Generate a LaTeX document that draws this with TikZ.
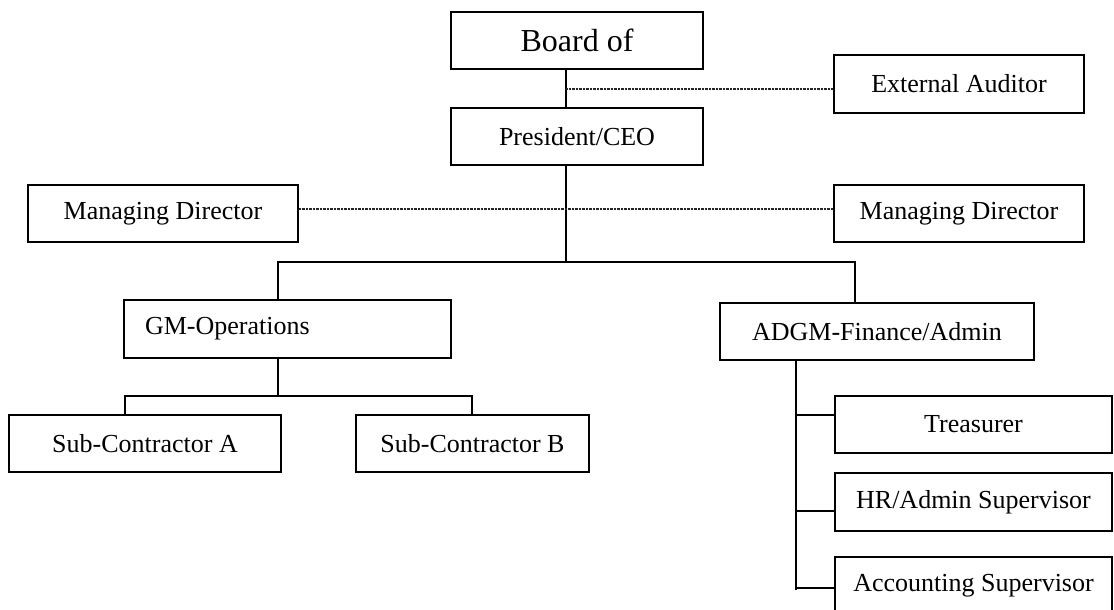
\documentclass[tikz,border=0pt]{standalone}
\usepackage{fontspec}
\setmainfont{Liberation Serif}
\usetikzlibrary{positioning}

\begin{document}
\begin{tikzpicture}[x=1pt,y=-1pt,
		box/.style={draw,line width=1.6pt,inner sep=0pt,minimum height=57pt,
			font=\fontsize{26}{30}\selectfont},
		link/.style={line width=1.4pt},
		dotlink/.style={line width=1.4pt,black!85,dash pattern=on 0.8pt off 0.6pt}]
		\useasboundingbox (0,0) rectangle (1114,610);
		\clip (0,0) rectangle (1114,610);

		\node[box,minimum width=252pt,font=\fontsize{32}{36}\selectfont]	(board)	at (577,40.5)	{Board of};
		\node[box,minimum width=252pt]	(pres)	at (577,136.5)	{President/CEO};
		\node[box,minimum width=250pt,minimum height=58pt]	(ext)	at (959,84)	{External Auditor};
		\node[box,minimum width=270pt]	(mdl)	at (163,213.5)	{Managing Director};
		\node[box,minimum width=250pt]	(mdr)	at (959,213.5)	{Managing Director};
		\node[box,text width=285pt,inner xsep=21pt,align=left,minimum height=58pt]	(gm)	at (287.5,329)	{GM-Operations};
		\node[box,minimum width=314pt]	(adgm)	at (877,331.5)	{ADGM-Finance/Admin};
		\node[box,minimum width=272pt]	(suba)	at (145,443.5)	{Sub-Contractor A};
		\node[box,minimum width=233pt]	(subb)	at (472.5,443.5)	{Sub-Contractor B};
		\node[box,minimum width=277pt]	(tres)	at (973.5,424.5)	{Treasurer};
		\node[box,minimum width=277pt,minimum height=58pt]	(hr)	at (973.5,502)	{HR/Admin Supervisor};
		\node[box,minimum width=277pt]	(acct)	at (973.5,585.5)	{Accounting Supervisor};

		\coordinate (trunk)	at (566,262);
		\coordinate (aud)	at (566,89);
		\coordinate (md)	at (298,209);
		\coordinate (gx)	at (278,262);
		\coordinate (ax)	at (855,262);
		\coordinate (sa)	at (125,396);
		\coordinate (sb)	at (472,396);
		\coordinate (sp)	at (796,590);
		\coordinate (b1)	at (796,415);
		\coordinate (b2)	at (796,511);
		\coordinate (b3)	at (796,588);

		\draw[link] (trunk |- board.south) -- (trunk |- pres.north);
		\draw[link] (trunk |- pres.south) -- (trunk);
		\draw[dotlink] (aud) -- (aud -| ext.west);
		\draw[dotlink] (md -| mdl.east) -- (md -| mdr.west);
		\draw[link] (gx |- gm.north) -- (gx) -- (ax) -- (ax |- adgm.north);
		\draw[link] (gx |- gm.south) -- (gx |- sa);
		\draw[link] (sa |- suba.north) -- (sa) -- (sb) -- (sb |- subb.north);
		\draw[link] (sp |- adgm.south) -- (sp);
		\draw[link] (b1) -- (b1 -| tres.west);
		\draw[link] (b2) -- (b2 -| hr.west);
		\draw[link] (b3) -- (b3 -| acct.west);
	\end{tikzpicture}
\end{document}
